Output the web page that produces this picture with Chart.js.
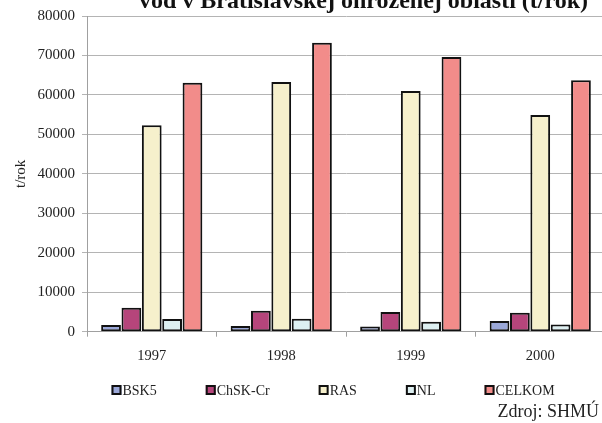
<!DOCTYPE html>
<html>
<head>
<meta charset="utf-8">
<script src="https://cdn.jsdelivr.net/npm/chart.js@4/dist/chart.umd.min.js"></script>
<style>
  html, body { margin: 0; padding: 0; background: #fff; overflow: hidden; }
  #wrap { width: 608px; height: 423px; position: relative; }
</style>
</head>
<body>
<div id="wrap"><canvas id="c"></canvas></div>
<script>
// Yearly loads (t/rok) per indicator
const years = ['1997', '1998', '1999', '2000'];
const bsk5 = [1700, 1450, 1300, 2700];
const chskCr = [6100, 5300, 5000, 4800];
const ras = [52300, 63300, 61000, 54900];
const nl = [3200, 3300, 2500, 1800];
const celkom = [63100, 73200, 69600, 63700];

const seriesNames = ['BSK5', 'ChSK-Cr', 'RAS', 'NL', 'CELKOM'];
const seriesValues = [bsk5, chskCr, ras, nl, celkom];
const seriesColors = ['#9aa7d8', '#b6457b', '#f6f0cc', '#ddeff1', '#f28c8a'];

const yMin = 0;
const yMax = 80000;
const yStep = 10000;

const chartTitle = 'vod v Bratislavskej ohrozenej oblasti (t/rok)';
const yTitle = 't/rok';
const sourceNote = 'Zdroj: SHMÚ';

const serif = '"Liberation Serif", "Times New Roman", serif';
Chart.defaults.font.family = serif;
Chart.defaults.color = '#222';

// Heading (partly above the canvas top) and source note
const textPlugin = {
  id: 'texts',
  afterDraw(chart) {
    const ctx = chart.ctx;
    ctx.save();
    ctx.fillStyle = '#111';
    ctx.font = 'bold 24px ' + serif;
    ctx.textAlign = 'center';
    ctx.textBaseline = 'alphabetic';
    ctx.fillText(chartTitle, 363.5, 8);
    ctx.font = '18px ' + serif;
    ctx.textAlign = 'right';
    ctx.fillStyle = '#222';
    ctx.fillText(sourceNote, 599, 417);
    ctx.restore();
  }
};

// Legend row with square keys right next to the labels
const legendPlugin = {
  id: 'rowLegend',
  afterDraw(chart) {
    const ctx = chart.ctx;
    ctx.save();
    ctx.font = '14px ' + serif;
    ctx.textBaseline = 'alphabetic';
    ctx.textAlign = 'left';
    let x = 111.5;
    const boxTop = 385;
    chart.data.datasets.forEach(ds => {
      ctx.fillStyle = ds.backgroundColor;
      ctx.fillRect(x, boxTop, 10, 10);
      ctx.strokeStyle = '#111';
      ctx.lineWidth = 2;
      ctx.strokeRect(x + 1, boxTop + 1, 8, 8);
      ctx.fillStyle = '#222';
      ctx.fillText(ds.label, x + 11, 394.5);
      x += 11 + ctx.measureText(ds.label).width + 49;
    });
    ctx.restore();
  }
};

new Chart(document.getElementById('c'), {
  type: 'bar',
  data: {
    labels: years,
    datasets: seriesNames.map((name, i) => ({
      label: name,
      data: seriesValues[i],
      backgroundColor: seriesColors[i],
      borderColor: '#111',
      borderWidth: 2,
      borderSkipped: false,
      categoryPercentage: 0.786,
      barPercentage: 0.97
    }))
  },
  options: {
    responsive: true,
    maintainAspectRatio: false,
    animation: false,
    devicePixelRatio: 1,
    layout: { padding: { top: 16, right: 3, left: 0, bottom: 61 } },
    plugins: {
      legend: { display: false },
      tooltip: { enabled: false },
      title: { display: false }
    },
    scales: {
      x: {
        grid: { display: true, drawOnChartArea: false, drawTicks: true, tickLength: 5, color: '#a0a0a0', offset: true },
        border: { display: true, color: '#a0a0a0', width: 1 },
        ticks: { font: { size: 14.5 }, color: '#222', padding: 11, maxRotation: 0 },
        afterFit(s) { s.height = 30.3; }
      },
      y: {
        min: yMin,
        max: yMax,
        ticks: { stepSize: yStep, font: { size: 15 }, color: '#222', padding: 7, callback: v => String(v) },
        grid: { color: '#b4b4b4', lineWidth: 1, tickLength: 5, drawTicks: true },
        border: { display: true, color: '#a0a0a0', width: 1 },
        title: { display: true, text: yTitle, font: { size: 15 }, color: '#222', padding: { top: 12, bottom: 0 } },
        afterFit(s) { s.width = 87; }
      }
    }
  },
  plugins: [textPlugin, legendPlugin]
});
</script>
</body>
</html>
